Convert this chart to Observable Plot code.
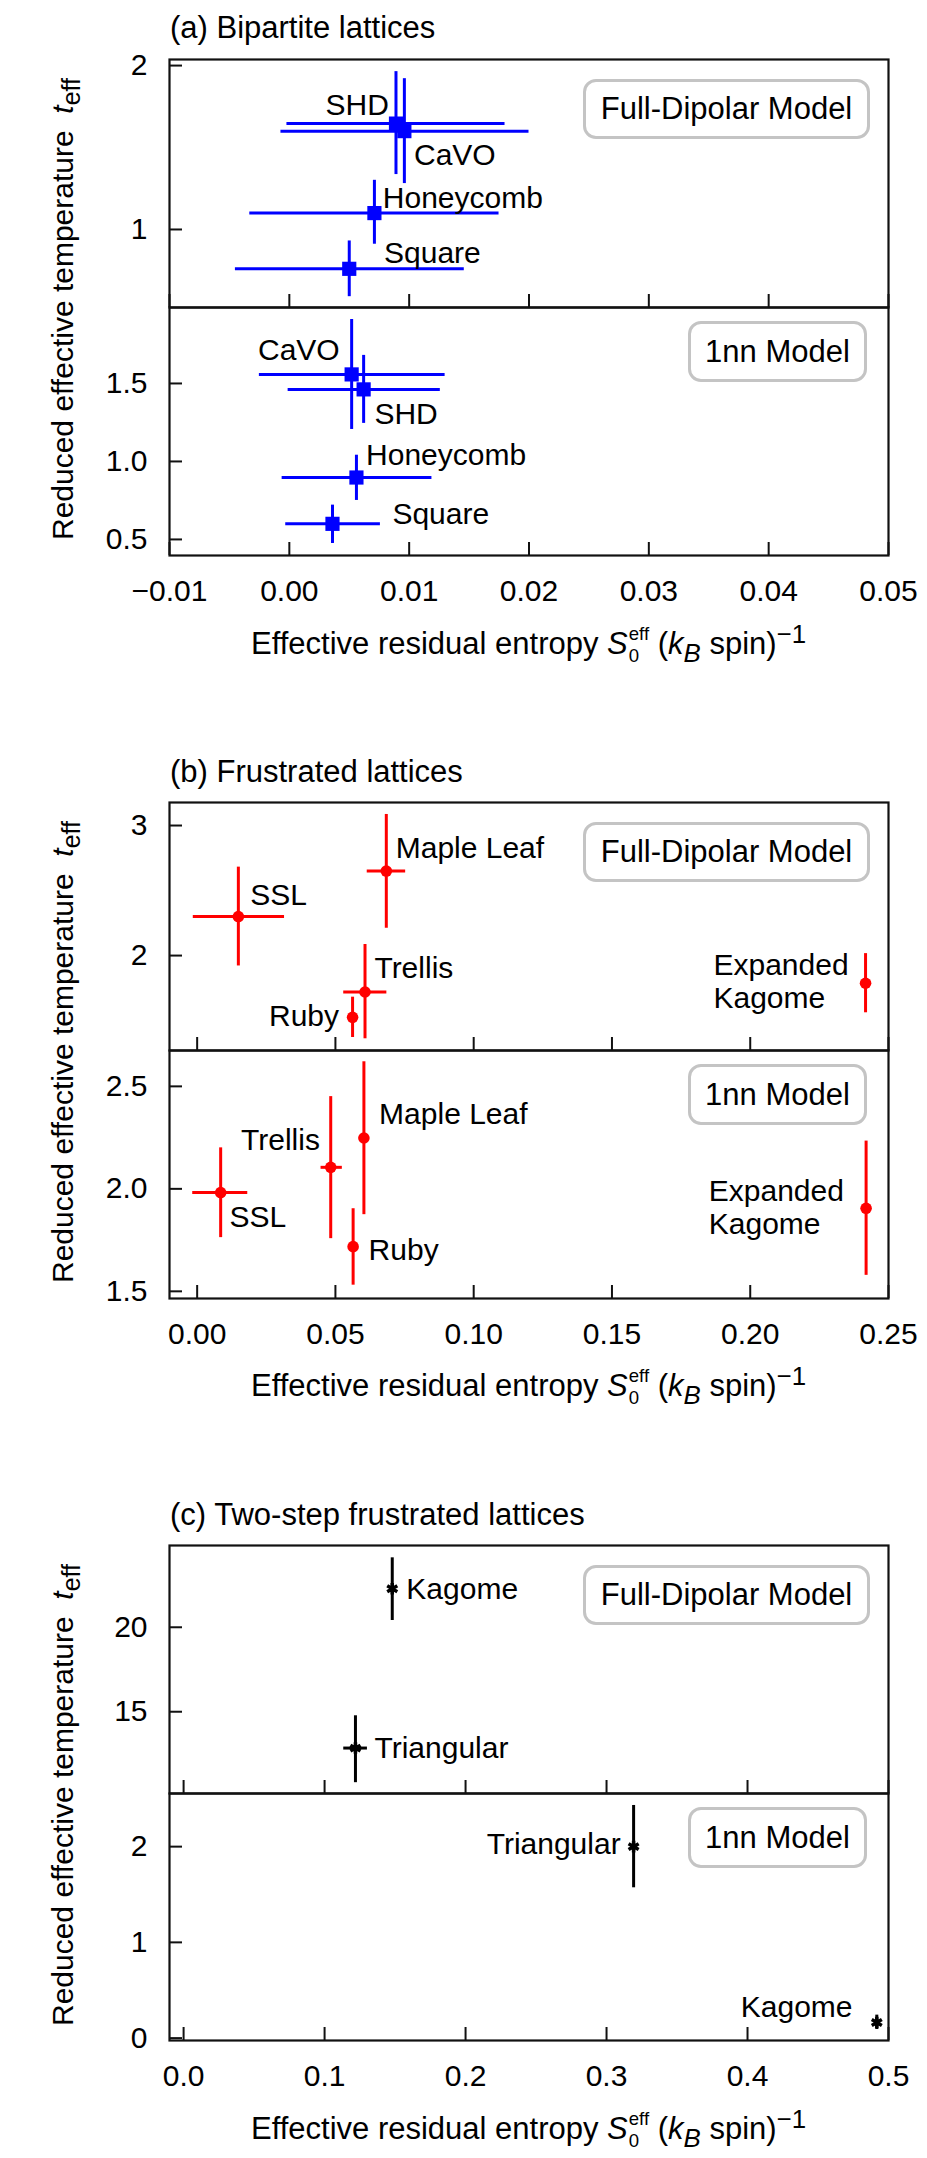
<!DOCTYPE html>
<html><head><meta charset="utf-8">
<script src="https://cdn.jsdelivr.net/npm/d3@7"></script>
<script src="https://cdn.jsdelivr.net/npm/@observablehq/plot@0.6"></script>
<style>
body{margin:0;background:#fff;}
#root{position:relative;width:927px;height:2158px;overflow:hidden;font-family:"Liberation Sans",Arial,Helvetica,sans-serif;color:#000;}
.abs{position:absolute;white-space:nowrap;line-height:1;}
.t31{font-size:31px;}
.t30{font-size:30px;}
.xlab{width:700px;text-align:center;}
.ylab{width:700px;text-align:center;transform:rotate(-90deg);}
.z{display:inline-block;width:0;overflow:visible;font-size:0.6em;line-height:1;vertical-align:-8px;margin-left:1px;}
.e{display:inline-block;font-size:0.6em;line-height:1;vertical-align:14px;}
.box{position:absolute;box-sizing:border-box;border:3px solid #c4c4c4;border-radius:13px;background:#fff;font-size:31px;display:flex;align-items:center;justify-content:center;white-space:nowrap;}
svg{position:absolute;left:0;}
</style></head><body><div id="root"></div><script>
// ---------- (a) Bipartite lattices ----------
const aFullLattice = ["SHD", "CaVO", "Honeycomb", "Square"];
const aFullS     = [0.0089, 0.0096, 0.0071, 0.0050];
const aFullSLow  = [-0.0002, -0.0007, -0.0033, -0.0045];
const aFullSHigh = [0.0180, 0.0200, 0.0175, 0.0146];
const aFullT     = [1.646, 1.600, 1.100, 0.760];
const aFullTLow  = [1.335, 1.280, 0.910, 0.590];
const aFullTHigh = [1.963, 1.920, 1.300, 0.930];
const aFullLabelS = [0.0083, 0.0104, 0.0078, 0.0079];
const aFullLabelT = [1.762, 1.457, 1.195, 0.860];
const aFullLabelAnchor = ["end", "start", "start", "start"];

const a1nnLattice = ["CaVO", "SHD", "Honeycomb", "Square"];
const a1nnS     = [0.0052, 0.0062, 0.0056, 0.0036];
const a1nnSLow  = [-0.0025, -0.0001, -0.0006, -0.0003];
const a1nnSHigh = [0.0130, 0.0126, 0.0119, 0.0076];
const a1nnT     = [1.558, 1.462, 0.897, 0.600];
const a1nnTLow  = [1.205, 1.244, 0.750, 0.474];
const a1nnTHigh = [1.910, 1.680, 1.040, 0.720];
const a1nnLabelS = [0.0042, 0.0071, 0.0064, 0.0086];
const a1nnLabelT = [1.718, 1.308, 1.045, 0.667];
const a1nnLabelAnchor = ["end", "start", "start", "start"];

const aXTicks = [-0.01, 0.00, 0.01, 0.02, 0.03, 0.04, 0.05];
const aFullYTicks = [1, 2];
const a1nnYTicks = [0.5, 1.0, 1.5];

// ---------- (b) Frustrated lattices ----------
const bFullLattice = ["SSL", "Maple Leaf", "Trellis", "Ruby", "Expanded\nKagome"];
const bFullS     = [0.0149, 0.0684, 0.0607, 0.0562, 0.2417];
const bFullSLow  = [-0.0014, 0.0615, 0.0530, 0.0562, 0.2417];
const bFullSHigh = [0.0316, 0.0754, 0.0686, 0.0562, 0.2417];
const bFullT     = [2.300, 2.650, 1.720, 1.525, 1.787];
const bFullTLow  = [1.920, 2.210, 1.360, 1.370, 1.560];
const bFullTHigh = [2.680, 3.085, 2.085, 1.680, 2.015];
const bFullLabelS = [0.0192, 0.0718, 0.0641, 0.0513, 0.1867];
const bFullLabelT = [2.470, 2.830, 1.908, 1.540, 1.808];
const bFullLabelAnchor = ["start", "start", "start", "end", "start"];

const b1nnLattice = ["SSL", "Trellis", "Maple Leaf", "Ruby", "Expanded\nKagome"];
const b1nnS     = [0.0085, 0.0483, 0.0603, 0.0564, 0.2419];
const b1nnSLow  = [-0.0016, 0.0448, 0.0603, 0.0564, 0.2419];
const b1nnSHigh = [0.0183, 0.0525, 0.0603, 0.0564, 0.2419];
const b1nnT     = [1.982, 2.105, 2.248, 1.718, 1.905];
const b1nnTLow  = [1.762, 1.757, 1.874, 1.530, 1.578];
const b1nnTHigh = [2.200, 2.450, 2.620, 1.903, 2.233];
const b1nnLabelS = [0.0117, 0.0444, 0.0658, 0.0620, 0.1850];
const b1nnLabelT = [1.864, 2.243, 2.370, 1.704, 1.913];
const b1nnLabelAnchor = ["start", "end", "start", "start", "start"];

const bXTicks = [0.00, 0.05, 0.10, 0.15, 0.20, 0.25];
const bFullYTicks = [2, 3];
const b1nnYTicks = [1.5, 2.0, 2.5];

// ---------- (c) Two-step frustrated lattices ----------
const cFullLattice = ["Kagome", "Triangular"];
const cFullS     = [0.1480, 0.1219];
const cFullSLow  = [0.1480, 0.1136];
const cFullSHigh = [0.1480, 0.1304];
const cFullT     = [22.28, 12.85];
const cFullTLow  = [20.40, 10.80];
const cFullTHigh = [24.11, 14.76];
const cFullLabelS = [0.1580, 0.1354];
const cFullLabelT = [22.29, 12.87];
const cFullLabelAnchor = ["start", "start"];

const c1nnLattice = ["Triangular", "Kagome"];
const c1nnS     = [0.3192, 0.4917];
const c1nnSLow  = [0.3192, 0.4917];
const c1nnSHigh = [0.3192, 0.4917];
const c1nnT     = [2.000, 0.163];
const c1nnTLow  = [1.570, 0.090];
const c1nnTHigh = [2.430, 0.240];
const c1nnLabelS = [0.3100, 0.4745];
const c1nnLabelT = [2.030, 0.330];
const c1nnLabelAnchor = ["end", "end"];

const cXTicks = [0.0, 0.1, 0.2, 0.3, 0.4, 0.5];
const cFullYTicks = [15, 20];
const c1nnYTicks = [0, 1, 2];

// ---------- rendering ----------
const FONT = '"Liberation Sans", Arial, Helvetica, sans-serif';
const root = document.getElementById("root");
const FRAME_L = 169, FRAME_R = 888, W = 927;

function subplot(o) {
  const mt = 3, mb = o.bottomAxis ? 70 : 3;
  const rows = o.names.map((n, i) => ({n, s: o.s[i], sl: o.sl[i], sh: o.sh[i], t: o.t[i], tl: o.tl[i], th: o.th[i]}));
  const labs = o.names.map((n, i) => ({txt: n, s: o.ls[i], t: o.lt[i], a: o.la[i]}));
  const svg = Plot.plot({
    width: W, height: o.bottom - o.top + mt + mb,
    marginLeft: FRAME_L, marginRight: W - FRAME_R, marginTop: mt, marginBottom: mb,
    x: {domain: o.xDomain, label: null},
    y: {domain: o.yDomain, label: null},
    style: {fontFamily: FONT, background: "transparent", overflow: "visible"},
    marks: [
      Plot.ruleY(rows, {y: "t", x1: "sl", x2: "sh", stroke: o.color, strokeWidth: 3}),
      Plot.ruleX(rows, {x: "s", y1: "tl", y2: "th", stroke: o.color, strokeWidth: 3}),
      Plot.dot(rows, {x: "s", y: "t", symbol: o.symbol, r: o.r, fill: o.fill, stroke: o.color, strokeWidth: o.sw}),
      Plot.text(labs.filter(d => d.a === "start"), {x: "s", y: "t", text: "txt", textAnchor: "start", fontSize: 30, fill: "#000", lineHeight: o.lh}),
      Plot.text(labs.filter(d => d.a === "end"), {x: "s", y: "t", text: "txt", textAnchor: "end", fontSize: 30, fill: "#000", lineHeight: o.lh}),
      Plot.axisY(o.yTicks, {tickSize: -13, tickPadding: 35, strokeWidth: 2, fontSize: 30, tickFormat: o.yFormat, label: null, stroke: "#111", fill: "#000"}),
      Plot.axisX(o.xTicks, {tickSize: -13, tickPadding: 37, strokeWidth: 2, fontSize: 30, tickFormat: o.bottomAxis ? o.xFormat : () => "", label: null, stroke: "#111", fill: "#000"}),
      Plot.frame({stroke: "#111", strokeWidth: 2.2})
    ]
  });
  svg.style.top = (o.top - mt) + "px";
  root.appendChild(svg);
}

function addDiv(cls, html, css) {
  const d = document.createElement("div");
  d.className = cls;
  d.innerHTML = html;
  Object.assign(d.style, css);
  root.appendChild(d);
}

const XLAB = 'Effective residual entropy <i>S</i><span class="z">0</span><span class="e">eff</span> (<i>k</i><sub><i>B</i></sub> spin)<sup>\u22121</sup>';
const YLAB = 'Reduced effective temperature&nbsp; <i>t</i><sub>eff</sub>';

const panels = [
  {title: "(a) Bipartite lattices", titleBase: 38, top: 59, mid: 307, bottom: 555, xlabBase: 648,
   xDomain: [-0.01, 0.05], xTicks: aXTicks, xFormat: d3.format(".2f"), color: "#0000ff", fill: "#0000ff", symbol: "square", r: 8, sw: 0, lh: 1.1,
   full: {names: aFullLattice, s: aFullS, sl: aFullSLow, sh: aFullSHigh, t: aFullT, tl: aFullTLow, th: aFullTHigh, ls: aFullLabelS, lt: aFullLabelT, la: aFullLabelAnchor, yDomain: [0.524, 2.037], yTicks: aFullYTicks, yFormat: d3.format("d")},
   nn: {names: a1nnLattice, s: a1nnS, sl: a1nnSLow, sh: a1nnSHigh, t: a1nnT, tl: a1nnTLow, th: a1nnTHigh, ls: a1nnLabelS, lt: a1nnLabelT, la: a1nnLabelAnchor, yDomain: [0.397, 1.987], yTicks: a1nnYTicks, yFormat: d3.format(".1f")}},
  {title: "(b) Frustrated lattices", titleBase: 782, top: 802, mid: 1050, bottom: 1298, xlabBase: 1390,
   xDomain: [-0.01, 0.25], xTicks: bXTicks, xFormat: d3.format(".2f"), color: "#ff0000", fill: "#ff0000", symbol: "circle", r: 5.8, sw: 0, lh: 1.1,
   full: {names: bFullLattice, s: bFullS, sl: bFullSLow, sh: bFullSHigh, t: bFullT, tl: bFullTLow, th: bFullTHigh, ls: bFullLabelS, lt: bFullLabelT, la: bFullLabelAnchor, yDomain: [1.27, 3.177], yTicks: bFullYTicks, yFormat: d3.format("d")},
   nn: {names: b1nnLattice, s: b1nnS, sl: b1nnSLow, sh: b1nnSHigh, t: b1nnT, tl: b1nnTLow, th: b1nnTHigh, ls: b1nnLabelS, lt: b1nnLabelT, la: b1nnLabelAnchor, yDomain: [1.465, 2.675], yTicks: b1nnYTicks, yFormat: d3.format(".1f")}},
  {title: "(c) Two-step frustrated lattices", titleBase: 1525, top: 1545, mid: 1793, bottom: 2040, xlabBase: 2133,
   xDomain: [-0.01, 0.5], xTicks: cXTicks, xFormat: d3.format(".1f"), color: "#000000", fill: "none", symbol: "asterisk", r: 5.5, sw: 3.5, lh: 1.1,
   full: {names: cFullLattice, s: cFullS, sl: cFullSLow, sh: cFullSHigh, t: cFullT, tl: cFullTLow, th: cFullTHigh, ls: cFullLabelS, lt: cFullLabelT, la: cFullLabelAnchor, yDomain: [10.16, 24.84], yTicks: cFullYTicks, yFormat: d3.format("d")},
   nn: {names: c1nnLattice, s: c1nnS, sl: c1nnSLow, sh: c1nnSHigh, t: c1nnT, tl: c1nnTLow, th: c1nnTHigh, ls: c1nnLabelS, lt: c1nnLabelT, la: c1nnLabelAnchor, yDomain: [-0.025, 2.555], yTicks: c1nnYTicks, yFormat: d3.format("d")}}
];

const ASC = 0.8465; // baseline offset (em) for line-height 1
for (const p of panels) {
  const common = {xDomain: p.xDomain, xTicks: p.xTicks, xFormat: p.xFormat, color: p.color, fill: p.fill, symbol: p.symbol, r: p.r, sw: p.sw, lh: p.lh};
  subplot({...common, ...p.full, top: p.top, bottom: p.mid, bottomAxis: false});
  subplot({...common, ...p.nn, top: p.mid, bottom: p.bottom, bottomAxis: true});
  addDiv("abs t31", p.title, {left: "170px", top: (p.titleBase - 31 * ASC) + "px"});
  addDiv("abs t31 xlab", XLAB, {left: ((FRAME_L + FRAME_R) / 2 - 350) + "px", top: (p.xlabBase - 31 * ASC) + "px"});
  const cy = (p.top + p.bottom) / 2 - 1;
  addDiv("abs t30 ylab", YLAB, {left: (66 - 350) + "px", top: (cy - 15) + "px"});
  addDiv("box", "Full-Dipolar Model", {left: "583px", top: (p.top + 20) + "px", width: "287px", height: "60px"});
  addDiv("box", "1nn Model", {left: "688px", top: (p.mid + 14) + "px", width: "179px", height: "61px"});
}
</script></body></html>
